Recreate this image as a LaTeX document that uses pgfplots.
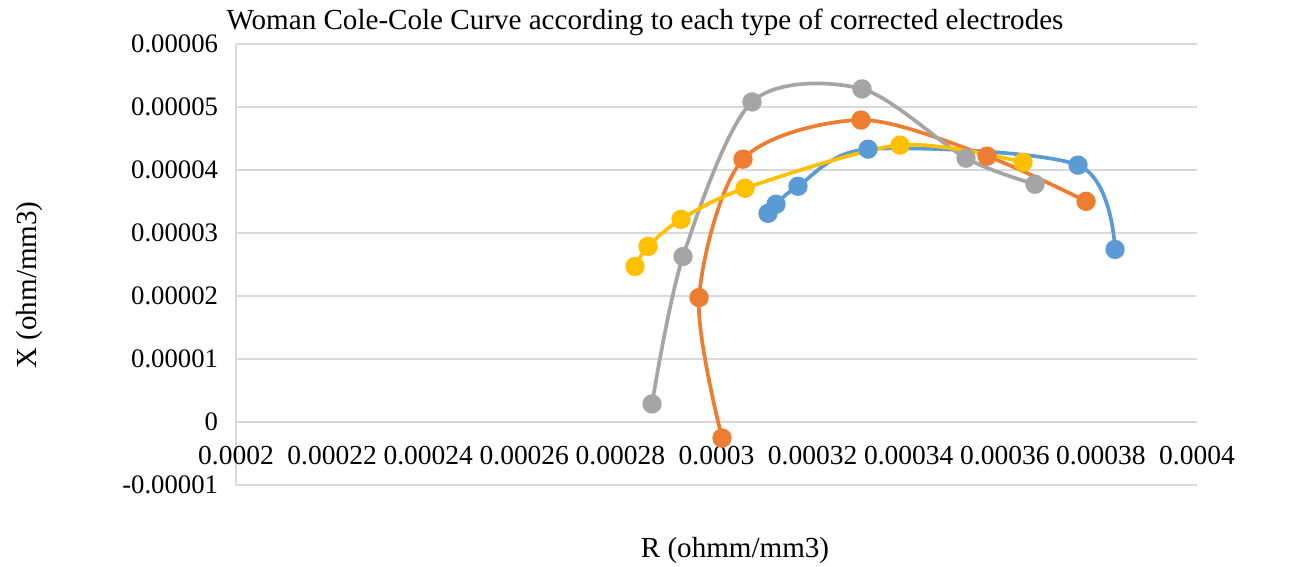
\documentclass[border=0pt]{standalone}
\usepackage{pgfplots}
\pgfplotsset{compat=1.18}
\usepackage{fontspec}
\setmainfont{Liberation Serif}
\definecolor{cblue}{HTML}{5B9BD5}
\definecolor{corange}{HTML}{ED7D31}
\definecolor{cgray}{HTML}{A5A5A5}
\definecolor{cyellow}{HTML}{FFC000}
\definecolor{gridgray}{HTML}{D9D9D9}
\begin{document}
\begin{tikzpicture}[x=1bp,y=1bp]
\useasboundingbox (0,0) rectangle (653,283);
\begin{axis}[
  at={(118bp,40.5bp)}, anchor=south west,
  scale only axis, width=480.5bp, height=220.5bp,
  xmin=0.0002, xmax=0.0004, ymin=-0.00001, ymax=0.00006,
  axis lines*=left,
  axis line style={gridgray, line width=1bp},
  ymajorgrids, major grid style={gridgray, line width=1bp},
  major tick length=0pt,
  xtick={0.0002,0.00022,0.00024,0.00026,0.00028,0.0003,0.00032,0.00034,0.00036,0.00038,0.0004},
  xticklabels={0.0002,0.00022,0.00024,0.00026,0.00028,0.0003,0.00032,0.00034,0.00036,0.00038,0.0004},
  ytick={-0.00001,0,0.00001,0.00002,0.00003,0.00004,0.00005,0.00006},
  yticklabels={-0.00001,0,0.00001,0.00002,0.00003,0.00004,0.00005,0.00006},
  scaled ticks=false,
  xticklabel style={anchor=center, yshift=14.5bp, font=\fontsize{13.8}{16}\selectfont},
  yticklabel style={xshift=-5.5bp, font=\fontsize{13.4}{16}\selectfont},
  every axis plot/.append style={line width=1.85bp, smooth, tension=0.5, mark=*, mark size=3.9bp, mark options={solid}},
  clip=false,
]
\addplot[cblue, mark options={fill=cblue, draw=cblue}] coordinates {
(0.00031072,3.312e-5) (0.00031238,3.456e-5) (0.00031696,3.742e-5) (0.00033153,4.331e-5) (0.00037524,4.077e-5) (0.00038294,2.739e-5)};
\addplot[corange, mark options={fill=corange, draw=corange}] coordinates {
(0.00030115,-2.55e-6) (0.00029636,1.975e-5) (0.00030552,4.172e-5) (0.00033007,4.793e-5) (0.0003563,4.22e-5) (0.0003769,3.503e-5)};
\addplot[cgray, mark options={fill=cgray, draw=cgray}] coordinates {
(0.00028658,2.87e-6) (0.00029303,2.627e-5) (0.00030739,5.080e-5) (0.00033028,5.287e-5) (0.00035193,4.188e-5) (0.00036629,3.774e-5)};
\addplot[cyellow, mark options={fill=cyellow, draw=cyellow}] coordinates {
(0.00028304,2.468e-5) (0.00028575,2.787e-5) (0.00029261,3.217e-5) (0.00030593,3.710e-5) (0.00033819,4.395e-5) (0.00036379,4.124e-5)};
\end{axis}
\node[font=\fontsize{14.6}{17}\selectfont] at (322.5,272) {Woman Cole-Cole Curve according to each type of corrected electrodes};
\node[rotate=90, font=\fontsize{14.6}{17}\selectfont] at (15,140.5) {X (ohm/mm3)};
\node[font=\fontsize{14.6}{17}\selectfont] at (367.5,8) {R (ohmm/mm3)};
\end{tikzpicture}
\end{document}
